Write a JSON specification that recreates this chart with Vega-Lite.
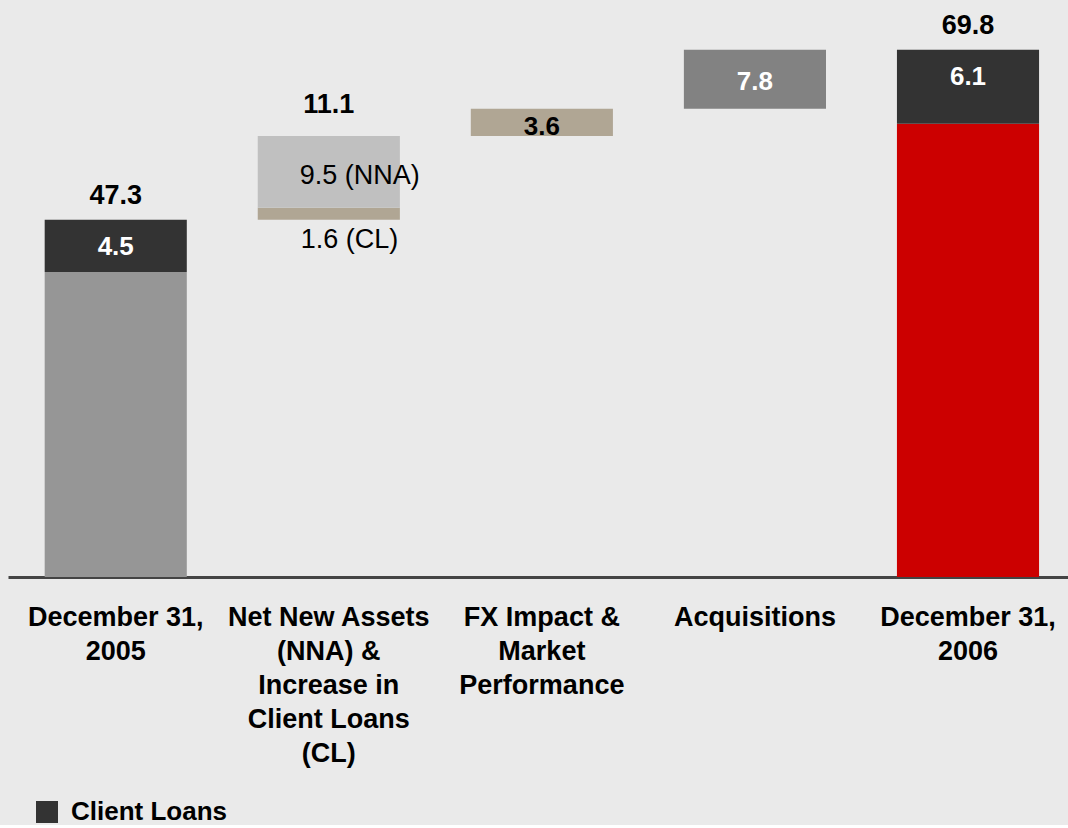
{
  "$schema": "https://vega.github.io/schema/vega-lite/v6.json",
  "width": 1060,
  "height": 577,
  "padding": {"left": 8, "top": 0, "right": 0, "bottom": 0},
  "background": "#eaeaea",
  "config": {
    "font": "Liberation Sans",
    "view": {"stroke": null}
  },
  "data": {
    "values": [
      {"cat": "December 31,|2005", "part": "Total 2005", "start": 0, "end": 40.4, "label": "", "total": ""},
      {"cat": "December 31,|2005", "part": "Client Loans", "start": 40.4, "end": 47.3, "label": "4.5", "total": "47.3"},
      {"cat": "Net New Assets|(NNA) &|Increase in|Client Loans|(CL)", "part": "CL", "start": 47.3, "end": 48.9, "label": "1.6 (CL)", "total": ""},
      {"cat": "Net New Assets|(NNA) &|Increase in|Client Loans|(CL)", "part": "NNA", "start": 48.9, "end": 58.4, "label": "9.5 (NNA)", "total": "11.1"},
      {"cat": "FX Impact &|Market|Performance", "part": "FX", "start": 58.4, "end": 62.0, "label": "3.6", "total": ""},
      {"cat": "Acquisitions", "part": "Acquisitions", "start": 62.0, "end": 69.8, "label": "7.8", "total": ""},
      {"cat": "December 31,|2006", "part": "Total 2006", "start": 0, "end": 60.0, "label": "", "total": ""},
      {"cat": "December 31,|2006", "part": "Client Loans", "start": 60.0, "end": 69.8, "label": "6.1", "total": "69.8"}
    ]
  },
  "encoding": {
    "x": {
      "field": "cat",
      "type": "nominal",
      "sort": null,
      "scale": {"paddingInner": 0.333, "paddingOuter": 0.154, "align": 0.559},
      "axis": {
        "title": null,
        "labelExpr": "split(datum.label, '|')",
        "labelFontSize": 27,
        "labelFontWeight": "bold",
        "labelColor": "#000000",
        "labelLineHeight": 34,
        "labelPadding": 27,
        "labelAngle": 0,
        "labelLimit": 400,
        "labelOverlap": false,
        "labelBaseline": "top",
        "ticks": false,
        "domainColor": "#444444",
        "domainWidth": 3,
        "grid": false
      }
    },
    "y": {
      "field": "end",
      "type": "quantitative",
      "scale": {"domain": [0, 76.4], "nice": false, "zero": true},
      "axis": null
    }
  },
  "layer": [
    {
      "mark": {"type": "bar"},
      "encoding": {
        "y": {"field": "start", "type": "quantitative"},
        "y2": {"field": "end"},
        "color": {
          "field": "part",
          "type": "nominal",
          "scale": {
            "domain": ["Total 2005", "Client Loans", "CL", "NNA", "FX", "Acquisitions", "Total 2006"],
            "range": ["#969696", "#333333", "#b0a694", "#c0c0c0", "#b0a694", "#828282", "#cc0000"]
          },
          "legend": {
            "values": ["Client Loans"],
            "title": null,
            "orient": "none",
            "legendX": 26,
            "legendY": 799,
            "padding": 0,
            "symbolType": "square",
            "symbolSize": 484,
            "symbolStrokeWidth": 0,
            "symbolOpacity": 1,
            "labelFontSize": 26,
            "labelFontWeight": "bold",
            "labelColor": "#000000",
            "labelOffset": 11
          }
        }
      }
    },
    {
      "transform": [{"filter": "datum.part == 'Client Loans'"}],
      "mark": {"type": "text", "baseline": "alphabetic", "dy": -16, "fontSize": 27, "fontWeight": "bold", "color": "#000000"},
      "encoding": {"text": {"field": "total"}}
    },
    {
      "transform": [{"filter": "datum.part == 'NNA'"}],
      "mark": {"type": "text", "baseline": "alphabetic", "dy": -23, "fontSize": 27, "fontWeight": "bold", "color": "#000000"},
      "encoding": {"text": {"field": "total"}}
    },
    {
      "transform": [{"filter": "datum.part == 'Client Loans'"}],
      "mark": {"type": "text", "baseline": "middle", "dy": 27, "fontSize": 26, "fontWeight": "bold", "color": "#ffffff"},
      "encoding": {"text": {"field": "label"}}
    },
    {
      "transform": [{"filter": "datum.part == 'Acquisitions'"}],
      "mark": {"type": "text", "baseline": "middle", "dy": 32, "fontSize": 26, "fontWeight": "bold", "color": "#ffffff"},
      "encoding": {"text": {"field": "label"}}
    },
    {
      "transform": [{"filter": "datum.part == 'FX'"}],
      "mark": {"type": "text", "baseline": "middle", "dy": 18, "fontSize": 26, "fontWeight": "bold", "color": "#000000"},
      "encoding": {"text": {"field": "label"}}
    },
    {
      "transform": [{"filter": "datum.part == 'NNA'"}],
      "mark": {"type": "text", "baseline": "alphabetic", "align": "left", "dx": -29, "dy": 48, "fontSize": 27, "color": "#000000"},
      "encoding": {"text": {"field": "label"}}
    },
    {
      "transform": [{"filter": "datum.part == 'CL'"}],
      "mark": {"type": "text", "baseline": "alphabetic", "align": "left", "dx": -28, "dy": 40, "fontSize": 27, "color": "#000000"},
      "encoding": {"text": {"field": "label"}}
    }
  ]
}
